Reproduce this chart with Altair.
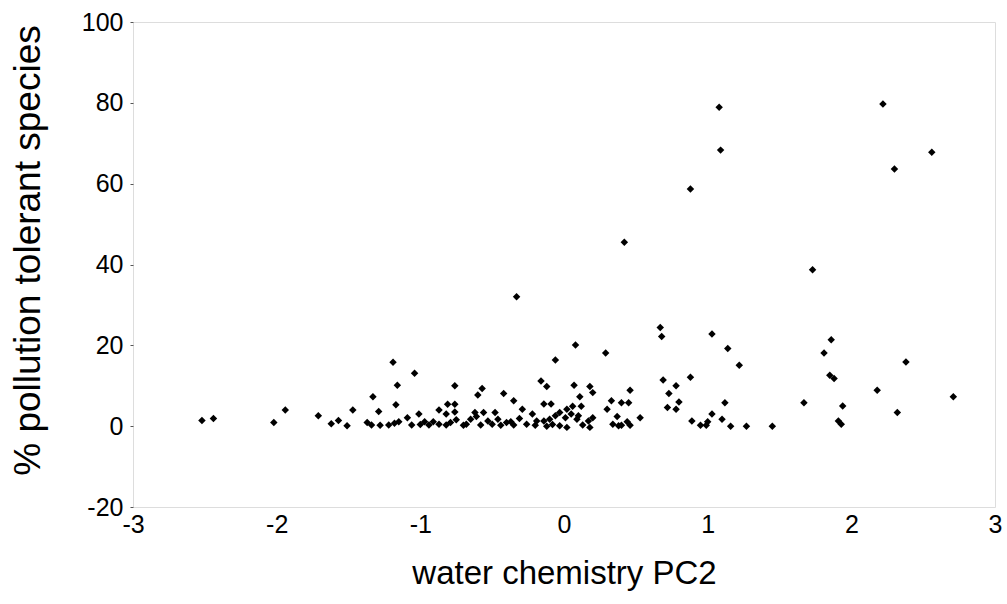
import altair as alt
import pandas as pd

pc2 = [-2.52, -2.44, -2.02, -1.94, -1.71, -1.62, -1.57, -1.51,
       -1.47, -1.37, -1.34, -1.33, -1.29, -1.28, -1.22, -1.19, -1.18, -1.17, -1.16, -1.15,
       -1.09, -1.06, -1.04, -1.01, -1.00, -0.97, -0.94, -0.91, -0.87, -0.87, -0.82, -0.82,
       -0.81, -0.79, -0.76, -0.76, -0.76, -0.75, -0.70, -0.68, -0.65, -0.62, -0.61, -0.60,
       -0.58, -0.57, -0.56, -0.53, -0.50, -0.48, -0.46, -0.44, -0.42, -0.40, -0.37, -0.35,
       -0.35, -0.33, -0.31, -0.29, -0.26, -0.22, -0.20, -0.19, -0.16, -0.14, -0.14, -0.12,
       -0.12, -0.10, -0.09, -0.08, -0.06, -0.06, -0.03, -0.03, 0.01, 0.02, 0.02, 0.05,
       0.06, 0.07, 0.08, 0.09, 0.10, 0.11, 0.12, 0.13, 0.17, 0.18, 0.18, 0.20, 0.20,
       0.29, 0.30, 0.33, 0.34, 0.37, 0.38, 0.40, 0.40, 0.42, 0.44, 0.45, 0.46, 0.46, 0.53,
       0.67, 0.68, 0.69, 0.73, 0.72, 0.78, 0.78, 0.80, 0.88, 0.88, 0.89, 0.95, 0.99, 1.00,
       1.03, 1.03, 1.08, 1.09, 1.10, 1.12, 1.14, 1.16, 1.22, 1.27, 1.45,
       1.67, 1.73, 1.81, 1.85, 1.86, 1.88, 1.91, 1.93, 1.94, 2.18, 2.22, 2.30, 2.32, 2.38,
       2.56, 2.71]

tolerant = [1.4, 1.9, 0.9, 4.0, 2.6, 0.6, 1.4, 0.1,
            4.0, 0.9, 0.3, 7.3, 3.6, 0.2, 0.3, 15.8, 0.7, 5.3, 10.1, 1.1,
            2.1, 0.3, 13.1, 3.0, 0.4, 1.1, 0.3, 1.1, 4.0, 0.5, 3.0, 0.3,
            5.4, 0.9, 5.4, 3.5, 10.0, 1.6, 0.2, 0.5, 1.7, 3.4, 2.4, 7.7,
            0.3, 9.3, 3.4, 1.3, 0.5, 3.4, 1.7, 0.2, 8.1, 0.9, 1.1, 6.3,
            0.3, 32.0, 1.9, 4.2, 0.5, 3.0, 0.2, 1.3, 11.2, 5.5, 1.3, 9.8,
            0.0, 1.7, 5.5, 0.4, 16.4, 2.6, 3.4, 0.1, 2.1, 4.2, -0.3, 3.0,
            4.9, 10.1, 20.1, 1.7, 2.6, 7.3, 4.9, 0.3, 1.3, 9.8, -0.3, 8.3, 2.1,
            18.1, 4.2, 6.3, 0.5, 2.4, 0.1, 5.8, 0.2, 45.5, 1.1, 5.8, 8.9, 0.2, 2.1,
            24.4, 22.2, 11.4, 8.1, 4.6, 10.0, 4.2, 6.0, 12.1, 58.7, 1.3, 0.2, 0.2, 1.1,
            3.0, 22.8, 78.9, 68.3, 1.7, 5.8, 19.2, 0.0, 15.1, 0.0, 0.0,
            5.8, 38.7, 18.1, 12.6, 21.4, 11.8, 1.3, 0.5, 5.0, 8.9, 79.7, 63.6, 3.4, 15.9,
            67.8, 7.3]

y_ticks = [-20, 0, 20, 40, 60, 80, 100]
x_ticks = [-3, -2, -1, 0, 1, 2, 3]

df = pd.DataFrame({"pc2": pc2, "tol": tolerant})

FONT = "Liberation Sans"

chart = alt.Chart(df).mark_point(
    shape="diamond", filled=True, color="black", size=56, opacity=1
).encode(
    x=alt.X("pc2:Q",
            scale=alt.Scale(domain=[-3, 3], nice=False, zero=False),
            axis=alt.Axis(values=x_ticks, title="water chemistry PC2",
                          labelExpr="toString(datum.value)",
                          grid=False, domain=False, ticks=False,
                          labelFont=FONT, labelFontSize=25, labelColor="black",
                          labelPadding=5, labelFlush=False,
                          titleFont=FONT, titleFontSize=33, titleFontWeight="normal",
                          titleColor="black", titleX=431, titleY=76,
                          titleBaseline="alphabetic")),
    y=alt.Y("tol:Q",
            scale=alt.Scale(domain=[-20, 100], nice=False, zero=False),
            axis=alt.Axis(values=y_ticks, title="% pollution tolerant species",
                          labelExpr="toString(datum.value)",
                          grid=False, domain=False, ticks=True, tickSize=3,
                          tickColor="#555", labelFont=FONT, labelFontSize=25,
                          labelColor="black", labelPadding=7, labelFlush=False,
                          titleFont=FONT, titleFontSize=37, titleFontWeight="normal",
                          titleColor="black", titleX=-105, titleY=228,
                          titleAngle=-90, titleAlign="center",
                          titleBaseline="middle")),
).properties(
    width=862, height=485,
    autosize=alt.AutoSizeParams(type="none"),
    padding={"left": 133, "top": 22, "right": 12, "bottom": 97},
).configure_view(
    stroke="#666", strokeWidth=1
).configure(background="white")

chart.save("out.html", embed_options={"renderer": "svg", "actions": False})
